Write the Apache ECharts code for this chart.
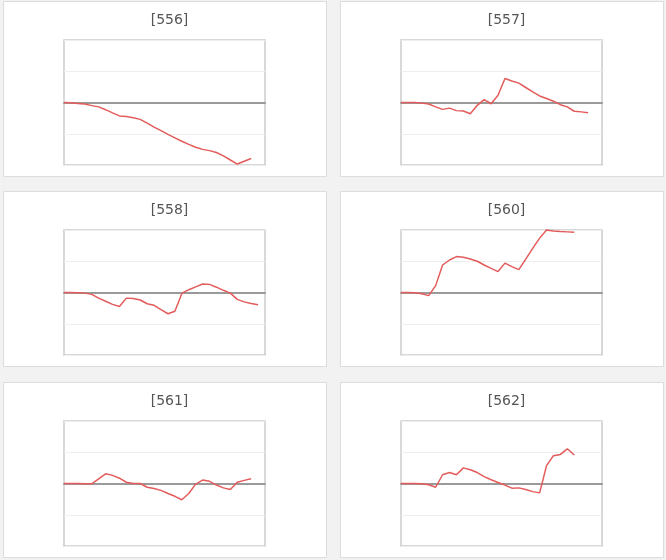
<!DOCTYPE html>
<html>
<head>
<meta charset="utf-8">
<script src="https://cdn.jsdelivr.net/npm/echarts@6/dist/echarts.min.js"></script>
<style>
html,body{margin:0;padding:0;background:#f2f2f2;}
#c{width:666px;height:560px;}
</style>
</head>
<body>
<div id="c"></div>
<script>
const categories = ['1','2','3','4','5','6','7','8','9','10','11','12','13','14','15','16','17','18','19','20','21','22','23','24','25','26','27','28','29','30'];
const titles = ['[556]','[557]','[558]','[560]','[561]','[562]'];
const s556 = [0,-0.01,-0.03,-0.05,-0.1,-0.14,-0.23,-0.33,-0.43,-0.45,-0.49,-0.54,-0.66,-0.79,-0.9,-1.02,-1.13,-1.24,-1.34,-1.43,-1.5,-1.54,-1.6,-1.71,-1.84,-1.97,-1.88,-1.79];
const s557 = [0,0,0,-0.02,-0.05,-0.14,-0.22,-0.18,-0.26,-0.27,-0.36,-0.09,0.09,-0.04,0.23,0.77,0.69,0.62,0.48,0.34,0.21,0.13,0.04,-0.07,-0.14,-0.28,-0.3,-0.33];
const s558 = [0,0,-0.01,-0.02,-0.06,-0.18,-0.28,-0.38,-0.45,-0.18,-0.19,-0.24,-0.36,-0.41,-0.55,-0.68,-0.6,-0.03,0.09,0.18,0.27,0.26,0.17,0.07,-0.02,-0.22,-0.3,-0.35,-0.39];
const s560 = [0,0,-0.01,-0.04,-0.1,0.22,0.88,1.04,1.15,1.13,1.07,1.0,0.88,0.77,0.67,0.94,0.83,0.73,1.07,1.41,1.74,2.0,1.97,1.95,1.94,1.93];
const s561 = [0,0,0,-0.01,-0.01,0.15,0.31,0.26,0.17,0.04,0,0,-0.12,-0.16,-0.22,-0.32,-0.41,-0.52,-0.32,-0.02,0.11,0.07,-0.05,-0.14,-0.19,0.04,0.1,0.15];
const s562 = [0,0,0,-0.01,-0.04,-0.12,0.28,0.35,0.28,0.5,0.44,0.35,0.22,0.12,0.03,-0.05,-0.15,-0.14,-0.19,-0.26,-0.3,0.57,0.89,0.93,1.11,0.91];
const seriesData = [s556,s557,s558,s560,s561,s562];
const yMin = -2, yMax = 2, yStep = 1;

const boxLefts = [3, 340];
const boxTops = [1, 191, 382];
const boxW = 323, boxH = 175;

const chart = echarts.init(document.getElementById('c'), null, {renderer:'canvas'});
const grids = [], xAxes = [], yAxes = [], series = [], titleOpts = [], graphics = [];
seriesData.forEach((d, k) => {
  const c = k % 2, r = Math.floor(k / 2);
  const bl = boxLefts[c], bt = boxTops[r];
  graphics.push({type:'rect', z:-10, silent:true, shape:{x:bl+0.5, y:bt+0.5, width:boxW, height:boxH},
    style:{fill:'#ffffff', stroke:'#dcdcdc', lineWidth:1}});
  titleOpts.push({text:titles[k], left: bl + boxW/2, top: bt + 7, textAlign:'center',
    textStyle:{fontFamily:'DejaVu Sans', fontSize:14, fontWeight:'normal', color:'#555'}});
  grids.push({show:true, left: bl + 61, top: bt + 39, width: 201, height: 125,
    backgroundColor:'#fff', borderColor:'#cccccc', borderWidth:1.5});
  xAxes.push({gridIndex:k, type:'category', data:categories, boundaryGap:false,
    axisLine:{show:true, onZero:true, lineStyle:{color:'#9a9a9a', width:2}},
    axisTick:{show:false}, axisLabel:{show:false}, splitLine:{show:false}});
  yAxes.push({gridIndex:k, type:'value', min:yMin, max:yMax, interval:yStep,
    axisLine:{show:false}, axisTick:{show:false}, axisLabel:{show:false},
    splitLine:{show:true, lineStyle:{color:'#eeeeee', width:1}}});
  series.push({type:'line', xAxisIndex:k, yAxisIndex:k, data:d, showSymbol:false, clip:false,
    lineStyle:{color:'#e35b5b', width:1.5}, itemStyle:{color:'#e35b5b'}, z:5});
});

chart.setOption({
  animation:false,
  backgroundColor:'#f2f2f2',
  title: titleOpts,
  graphic: graphics,
  grid: grids,
  xAxis: xAxes,
  yAxis: yAxes,
  series: series
});
</script>
</body>
</html>
